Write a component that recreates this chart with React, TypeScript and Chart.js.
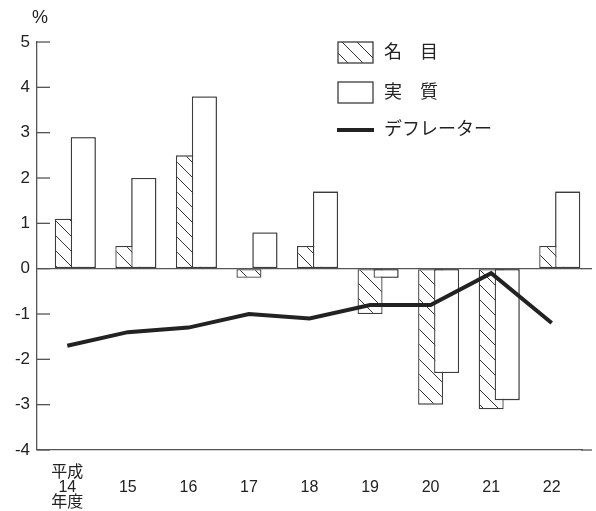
import React, { useEffect, useRef } from "react";
import { Chart, registerables } from "chart.js";

Chart.register(...registerables);

const categories = ["14", "15", "16", "17", "18", "19", "20", "21", "22"];
const nominal = [1.1, 0.5, 2.5, -0.2, 0.5, -1.0, -3.0, -3.1, 0.5];
const real = [2.9, 2.0, 3.8, 0.8, 1.7, -0.2, -2.3, -2.9, 1.7];
const deflator = [-1.7, -1.4, -1.3, -1.0, -1.1, -0.8, -0.8, -0.1, -1.2];
const seriesNames = ["名\u3000目", "実\u3000質", "デフレーター"];
const eraPrefix = "平成";
const yearSuffix = "年度";
const unitLabel = "%";
const yMin = -4;
const yMax = 5;

const FONT = "'Liberation Sans', Arial, 'Noto Sans CJK JP', sans-serif";
const INK = "#222222";
const EDGE = "#3c3c3c";
const AXIS = "#555555";

function makeHatch(): CanvasPattern | string {
  const s = 15;
  const c = document.createElement("canvas");
  c.width = s;
  c.height = s;
  const g = c.getContext("2d");
  if (!g) return "#ffffff";
  g.fillStyle = "#ffffff";
  g.fillRect(0, 0, s, s);
  g.strokeStyle = "#333333";
  g.lineWidth = 1;
  g.beginPath();
  g.moveTo(-2, -2);
  g.lineTo(s + 2, s + 2);
  g.moveTo(-2, s - 2);
  g.lineTo(2, s + 2);
  g.moveTo(s - 2, -2);
  g.lineTo(s + 2, 2);
  g.stroke();
  const p = g.createPattern(c, "repeat");
  return p || "#ffffff";
}

export default function App() {
  const ref = useRef<HTMLCanvasElement | null>(null);

  useEffect(() => {
    const canvas = ref.current;
    if (!canvas) return;
    const hatch = makeHatch();

    const overlayPlugin = {
      id: "overlay",
      afterDatasetDraw(chart: any, args: any) {
        // draw the real bars above the nominal bars
        if (args.index === 1) {
          chart.getDatasetMeta(2).controller.draw();
        }
      },
      afterDraw(chart: any) {
        const ctx = chart.ctx as CanvasRenderingContext2D;
        const area = chart.chartArea;
        const ys = chart.scales.y;
        ctx.save();
        // inward tick marks
        ctx.strokeStyle = AXIS;
        ctx.lineWidth = 1.3;
        ys.ticks.forEach((t: any) => {
          const py = ys.getPixelForValue(t.value);
          ctx.beginPath();
          ctx.moveTo(area.left, py);
          ctx.lineTo(area.left + 13, py);
          ctx.stroke();
        });
        // extend zero line and bottom axis to the right
        [0, yMin].forEach((v) => {
          const py = ys.getPixelForValue(v);
          ctx.beginPath();
          ctx.moveTo(area.right - 1, py);
          ctx.lineTo(area.right + 10, py);
          ctx.stroke();
        });
        // unit label
        ctx.fillStyle = INK;
        ctx.font = `18px ${FONT}`;
        ctx.textAlign = "center";
        ctx.textBaseline = "middle";
        ctx.fillText(unitLabel, area.left + 3, area.top - 24);

        // legend
        const lx = area.left + 301;
        const tx = lx + 46;
        const y1 = area.top;
        ctx.lineWidth = 1.3;
        ctx.strokeStyle = EDGE;
        ctx.fillStyle = hatch as any;
        ctx.fillRect(lx, y1, 35, 21);
        ctx.strokeRect(lx, y1, 35, 21);
        ctx.fillStyle = "#ffffff";
        ctx.fillRect(lx, y1 + 40, 35, 21);
        ctx.strokeRect(lx, y1 + 40, 35, 21);
        ctx.strokeStyle = "#222222";
        ctx.lineWidth = 4;
        ctx.beginPath();
        ctx.moveTo(lx - 1, y1 + 88);
        ctx.lineTo(lx + 36, y1 + 88);
        ctx.stroke();
        ctx.fillStyle = INK;
        ctx.font = `18px ${FONT}`;
        ctx.textAlign = "left";
        ctx.fillText(seriesNames[0], tx, y1 + 11);
        ctx.fillText(seriesNames[1], tx, y1 + 51);
        ctx.fillText(seriesNames[2], tx, y1 + 88);
        ctx.restore();
      },
    };

    const chart = new Chart(canvas, {
      type: "bar",
      data: {
        labels: categories,
        datasets: [
          {
            type: "bar",
            label: "",
            data: categories.map(() => null),
            backgroundColor: "rgba(0,0,0,0)",
            borderWidth: 0,
          },
          {
            type: "bar",
            label: seriesNames[0],
            data: nominal,
            backgroundColor: hatch as any,
            borderColor: EDGE,
            borderWidth: 1.3,
            borderSkipped: false,
          },
          {
            type: "bar",
            label: seriesNames[1],
            data: real,
            backgroundColor: "#ffffff",
            borderColor: EDGE,
            borderWidth: 1.3,
            borderSkipped: false,
          },
          {
            type: "line",
            label: seriesNames[2],
            data: deflator,
            borderColor: "#222222",
            borderWidth: 4,
            pointRadius: 0,
            tension: 0,
            order: -1,
          } as any,
        ],
      },
      options: {
        responsive: false,
        animation: false,
        devicePixelRatio: 1,
        layout: { padding: { top: 42, right: 14, left: 0, bottom: 0 } },
        datasets: {
          bar: { categoryPercentage: 0.792, barPercentage: 1.5625 },
        } as any,
        plugins: {
          legend: { display: false },
          tooltip: { enabled: false },
          title: { display: false },
        },
        scales: {
          x: {
            type: "category",
            offset: true,
            grid: { display: false, drawTicks: false },
            border: { display: true, color: AXIS, width: 1.3 },
            ticks: {
              color: INK,
              font: { family: FONT, size: 16, lineHeight: "15px" },
              padding: 15,
              maxRotation: 0,
              autoSkip: false,
              callback: (_v: any, i: number) =>
                i === 0 ? [eraPrefix, categories[i], yearSuffix] : ["", categories[i], ""],
            },
            afterFit: (s: any) => {
              s.height = 61;
            },
          },
          y: {
            type: "linear",
            min: yMin,
            max: yMax,
            grid: {
              drawTicks: false,
              color: (c: any) => (c.tick && c.tick.value === 0 ? AXIS : "rgba(0,0,0,0)"),
              lineWidth: 1.3,
            },
            border: { display: true, color: AXIS, width: 1.3 },
            ticks: {
              stepSize: 1,
              color: INK,
              font: { family: FONT, size: 17 },
              padding: 7,
            },
            afterFit: (s: any) => {
              s.width = 37;
            },
          },
        },
      },
      plugins: [overlayPlugin],
    });

    return () => chart.destroy();
  }, []);

  return (
    <div style={{ position: "fixed", left: 0, top: 0, width: 596, height: 511, background: "#fff" }}>
      <canvas ref={ref} width={596} height={511} />
    </div>
  );
}
